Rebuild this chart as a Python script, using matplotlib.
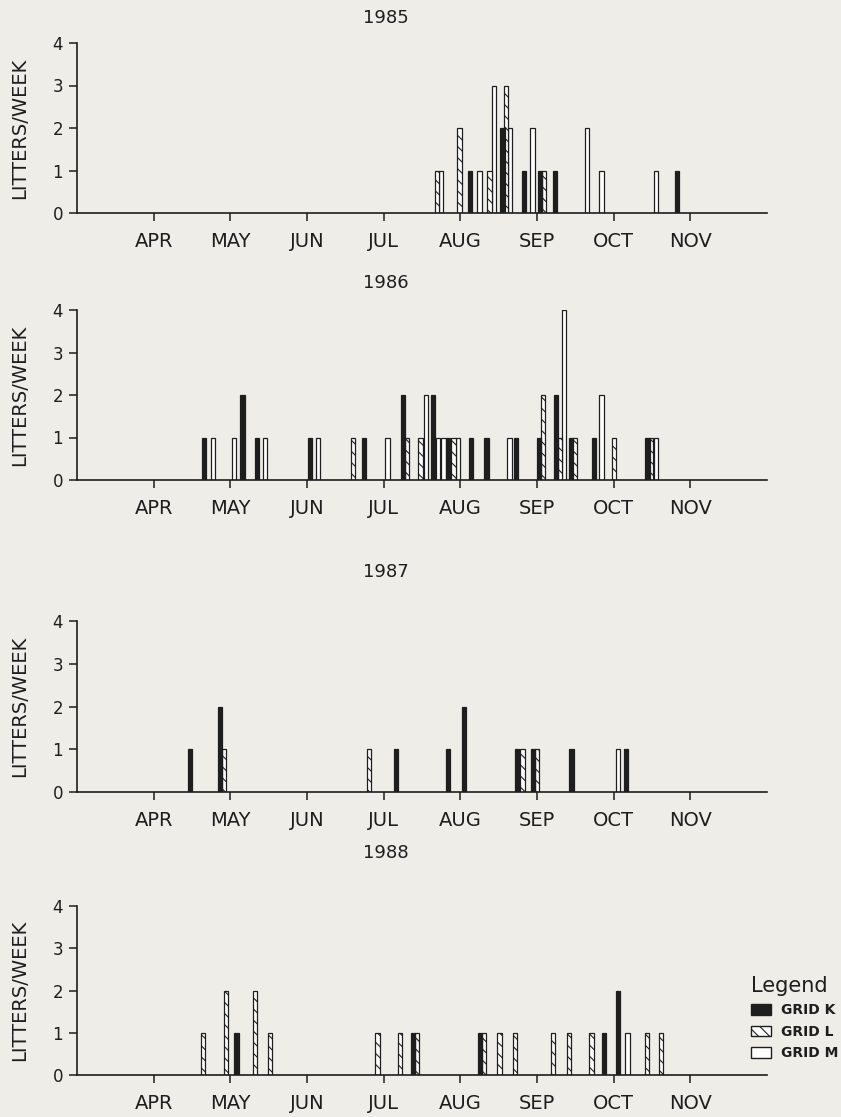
import matplotlib.pyplot as plt
from matplotlib.patches import Patch

# x positions in months after 1 April (APR=0, MAY=1, ...), heights in litters/week
months = ["APR", "MAY", "JUN", "JUL", "AUG", "SEP", "OCT", "NOV"]
years = ["1985", "1986", "1987", "1988"]

k85_x = [4.13, 4.55, 4.83, 5.04, 5.23, 6.83]
k85_y = [1, 2, 1, 1, 1, 1]
l85_x = [3.70, 3.99, 4.38, 4.60, 5.09]
l85_y = [1, 2, 1, 3, 1]
m85_x = [3.75, 4.25, 4.44, 4.65, 4.94, 5.65, 5.84, 6.55]
m85_y = [1, 1, 3, 2, 2, 2, 1, 1]

k86_x = [0.66, 1.16, 1.35, 2.04, 2.74, 3.25, 3.64, 3.84, 4.14, 4.34, 4.73, 5.03, 5.25, 5.44, 5.74, 6.44]
k86_y = [1, 2, 1, 1, 1, 2, 2, 1, 1, 1, 1, 1, 2, 1, 1, 1]
l86_x = [2.60, 3.30, 3.48, 3.91, 5.08, 5.30, 5.49, 6.00, 6.49]
l86_y = [1, 1, 1, 1, 2, 1, 1, 1, 1]
m86_x = [0.77, 1.05, 1.45, 2.14, 3.05, 3.55, 3.71, 3.78, 3.97, 4.64, 5.35, 5.84, 6.55]
m86_y = [1, 1, 1, 1, 1, 2, 1, 1, 1, 1, 4, 2, 1]

k87_x = [0.47, 0.87, 3.16, 3.84, 4.05, 4.74, 4.95, 5.45, 6.16]
k87_y = [1, 2, 1, 1, 2, 1, 1, 1, 1]
l87_x = [0.92, 2.81, 4.81, 5.00]
l87_y = [1, 1, 1, 1]
m87_x = [6.06]
m87_y = [1]

k88_x = [1.08, 3.38, 4.26, 5.87, 6.06]
k88_y = [1, 1, 1, 1, 2]
l88_x = [0.64, 0.94, 1.32, 1.52, 2.92, 3.21, 3.43, 4.31, 4.51, 4.71, 5.21, 5.42, 5.71, 6.43, 6.62]
l88_y = [1, 2, 2, 1, 1, 1, 1, 1, 1, 1, 1, 1, 1, 1, 1]
m88_x = [6.18]
m88_y = [1]

grid_k = [(k85_x, k85_y), (k86_x, k86_y), (k87_x, k87_y), (k88_x, k88_y)]
grid_l = [(l85_x, l85_y), (l86_x, l86_y), (l87_x, l87_y), (l88_x, l88_y)]
grid_m = [(m85_x, m85_y), (m86_x, m86_y), (m87_x, m87_y), (m88_x, m88_y)]

bg = "#efede8"
ink = "#1e1e1e"
W, H = 841, 1117
plt.rcParams["font.family"] = ["DejaVu Sans"]
plt.rcParams["hatch.linewidth"] = 0.8
plt.rcParams["hatch.color"] = ink

fig = plt.figure(figsize=(W / 100, H / 100), dpi=100, facecolor=bg)

# (axes top px, baseline px, title y px)
panels = [(43, 213, 18), (310, 480, 283), (621, 792, 572), (906, 1075, 853)]
left_px, right_px = 77, 767
bw = 0.055

for i, (top, base, ty) in enumerate(panels):
    ax = fig.add_axes([left_px / W, 1 - base / H, (right_px - left_px) / W, (base - top) / H])
    ax.set_facecolor(bg)
    ax.bar(grid_m[i][0], grid_m[i][1], width=bw, color="white", edgecolor=ink, linewidth=0.9)
    ax.bar(grid_l[i][0], grid_l[i][1], width=bw, color="white", edgecolor=ink, linewidth=0.9, hatch="\\\\\\")
    ax.bar(grid_k[i][0], grid_k[i][1], width=bw, color=ink, edgecolor=ink, linewidth=0.9)
    ax.set_xlim(-1, 8)
    ax.set_ylim(0, 4)
    ax.set_xticks(range(len(months)))
    ax.set_xticklabels(months, fontsize=14, color=ink)
    ax.set_yticks([0, 1, 2, 3, 4])
    ax.set_yticklabels(["0", "1", "2", "3", "4"], fontsize=12, color=ink)
    ax.tick_params(axis="x", length=6, width=1.1, pad=8, color=ink)
    ax.tick_params(axis="y", length=6, width=1.1, pad=4, color=ink)
    for s in ["top", "right"]:
        ax.spines[s].set_visible(False)
    for s in ["left", "bottom"]:
        ax.spines[s].set_linewidth(1.2)
        ax.spines[s].set_color(ink)
    ax.set_ylabel("LITTERS/WEEK", fontsize=14, color=ink)
    ax.yaxis.set_label_coords(-0.07, 0.5)
    fig.text(386 / W, 1 - ty / H, years[i], ha="center", va="center", fontsize=13, color=ink)

handles = [
    Patch(facecolor=ink, edgecolor=ink, label="GRID K"),
    Patch(facecolor="white", edgecolor=ink, hatch="\\\\\\", label="GRID L"),
    Patch(facecolor="white", edgecolor=ink, label="GRID M"),
]
leg = fig.legend(handles=handles, loc="upper left", bbox_to_anchor=(745 / W, 1 - 970 / H),
                 frameon=False, title="Legend", title_fontsize=15, fontsize=10,
                 handlelength=1.5, handleheight=0.8, handletextpad=0.7, labelspacing=0.55,
                 alignment="left", borderaxespad=0)
for t in leg.get_texts():
    t.set_color(ink)
    t.set_fontweight("bold")
leg.get_title().set_color(ink)

fig.savefig("out.png", dpi=100, facecolor=bg)
